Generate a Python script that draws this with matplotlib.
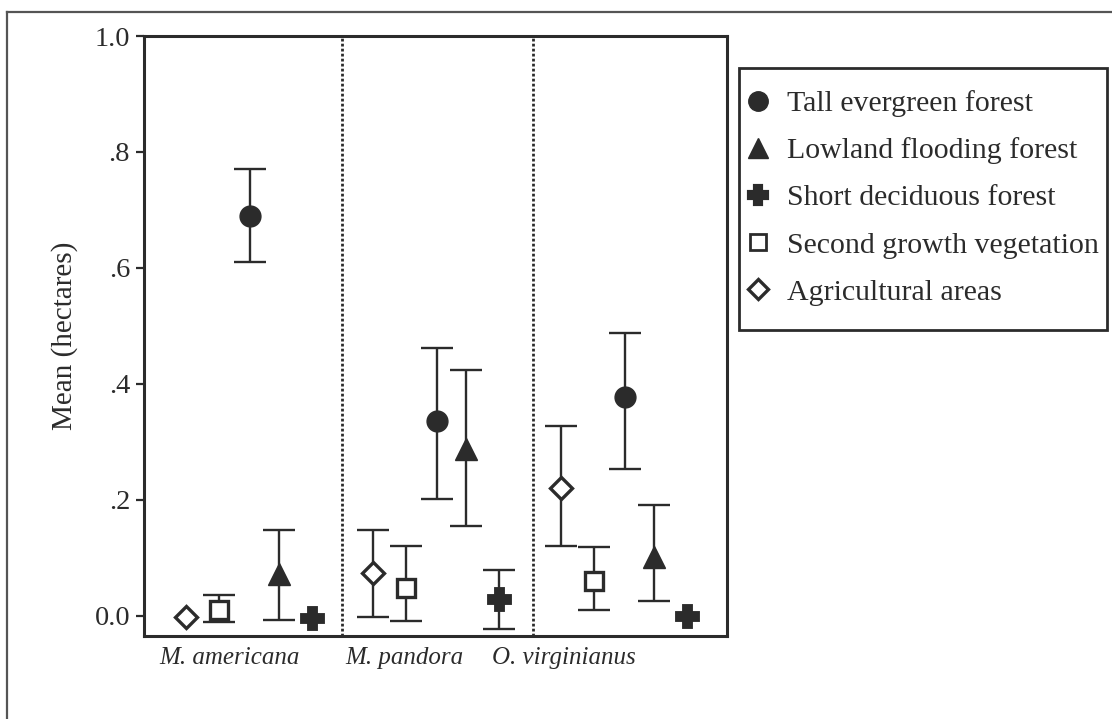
import matplotlib
matplotlib.use("Agg")
import matplotlib.pyplot as plt
from matplotlib.lines import Line2D
from matplotlib.patches import Rectangle

# ---- data ----
species = ["M. americana", "M. pandora", "O. virginianus"]
habitats = ["Tall evergreen forest", "Lowland flooding forest", "Short deciduous forest",
            "Second growth vegetation", "Agricultural areas"]

# means per habitat (order of species)
mean_tall = [0.690, 0.336, 0.377]
mean_lowland = [0.073, 0.288, 0.101]
mean_short = [-0.004, 0.030, 0.000]
mean_second = [0.010, 0.049, 0.060]
mean_agri = [-0.002, 0.074, 0.221]

# error bar lower / upper limits (None = no bar)
lo_tall = [0.611, 0.201, 0.254]
hi_tall = [0.771, 0.462, 0.488]
lo_lowland = [-0.007, 0.155, 0.025]
hi_lowland = [0.148, 0.424, 0.192]
lo_short = [None, -0.023, None]
hi_short = [None, 0.080, None]
lo_second = [-0.011, -0.008, 0.010]
hi_second = [0.037, 0.121, 0.119]
lo_agri = [None, -0.001, 0.120]
hi_agri = [None, 0.148, 0.327]

yticks = [0.0, 0.2, 0.4, 0.6, 0.8, 1.0]
ytick_labels = ["0.0", ".2", ".4", ".6", ".8", "1.0"]

# ---- layout ----
group_center = [0.546, 1.508, 2.476]
offsets = {"tall": 0.0, "lowland": 0.15, "short": 0.32, "second": -0.16, "agri": -0.33}
label_pos = [0.44, 1.34, 2.16]
dividers = [1.02, 2.0]

plt.rcParams["font.family"] = ["Liberation Serif", "DejaVu Serif"]
INK = "#2b2b2b"

fig = plt.figure(figsize=(11.12, 7.19), dpi=100)
ax = fig.add_axes([144 / 1112, 1 - 636 / 719, (727 - 144) / 1112, (636 - 36) / 719])

series = [
    ("tall", mean_tall, lo_tall, hi_tall, dict(marker="o", ms=15, mfc=INK, mec=INK, mew=1)),
    ("lowland", mean_lowland, lo_lowland, hi_lowland, dict(marker="^", ms=16, mfc=INK, mec=INK, mew=1)),
    ("short", mean_short, lo_short, hi_short, dict(marker="P", ms=14, mfc=INK, mec=INK, mew=3.5)),
    ("second", mean_second, lo_second, hi_second, dict(marker="s", ms=13, mfc="white", mec=INK, mew=2.4)),
    ("agri", mean_agri, lo_agri, hi_agri, dict(marker="D", ms=11, mfc="white", mec=INK, mew=2.4)),
]

for key, means, los, his, style in series:
    for gi in range(3):
        x = group_center[gi] + offsets[key]
        m = means[gi]
        if los[gi] is not None:
            ax.errorbar([x], [m], yerr=[[m - los[gi]], [his[gi] - m]], fmt="none",
                        ecolor=INK, elinewidth=1.7, capsize=11.5, capthick=1.7, zorder=2)
        ax.plot([x], [m], linestyle="none", zorder=3, **style)

for d in dividers:
    ax.axvline(d, color=INK, linestyle=(0, (1, 0.8)), linewidth=2.0, zorder=1)

ax.set_xlim(0, 3)
ax.set_ylim(-0.0345, 1.0)
ax.set_yticks(yticks)
ax.set_yticklabels(ytick_labels)
ax.set_xticks(label_pos)
ax.set_xticklabels(species, fontstyle="italic", fontsize=18)
ax.tick_params(axis="x", length=0, pad=8)
ax.tick_params(axis="y", length=6, width=1.6, colors=INK, labelsize=20.5, pad=4)
ax.tick_params(axis="x", colors=INK)
for sp in ax.spines.values():
    sp.set_linewidth(2.2)
    sp.set_color(INK)
ax.set_ylabel("Mean (hectares)", fontsize=21, color=INK, labelpad=12)

handles = [
    Line2D([], [], linestyle="none", marker="o", ms=14, mfc=INK, mec=INK),
    Line2D([], [], linestyle="none", marker="^", ms=15, mfc=INK, mec=INK),
    Line2D([], [], linestyle="none", marker="P", ms=13, mfc=INK, mec=INK, mew=3),
    Line2D([], [], linestyle="none", marker="s", ms=12, mfc="white", mec=INK, mew=2),
    Line2D([], [], linestyle="none", marker="D", ms=10, mfc="white", mec=INK, mew=2.4),
]
leg = fig.legend(handles, habitats, loc="upper left", bbox_to_anchor=(747 / 1112, 1 - 90 / 719),
                 borderaxespad=0, frameon=False, fontsize=21.5,
                 handlelength=0.72, handletextpad=0.62, labelspacing=0.68, borderpad=0)
for t in leg.get_texts():
    t.set_color(INK)
fig.add_artist(Rectangle((739 / 1112, 1 - 330 / 719), 368 / 1112, 262 / 719,
                         transform=fig.transFigure, fill=False, ec=INK, lw=2.0))

# outer frame (top and left edges visible)
fig.add_artist(Line2D([7 / 1112, 7 / 1112], [0, 1 - 12 / 719], transform=fig.transFigure,
                      color="#555555", linewidth=1.6))
fig.add_artist(Line2D([7 / 1112, 1], [1 - 12 / 719, 1 - 12 / 719], transform=fig.transFigure,
                      color="#555555", linewidth=1.6))

fig.savefig("out.png", dpi=100)
